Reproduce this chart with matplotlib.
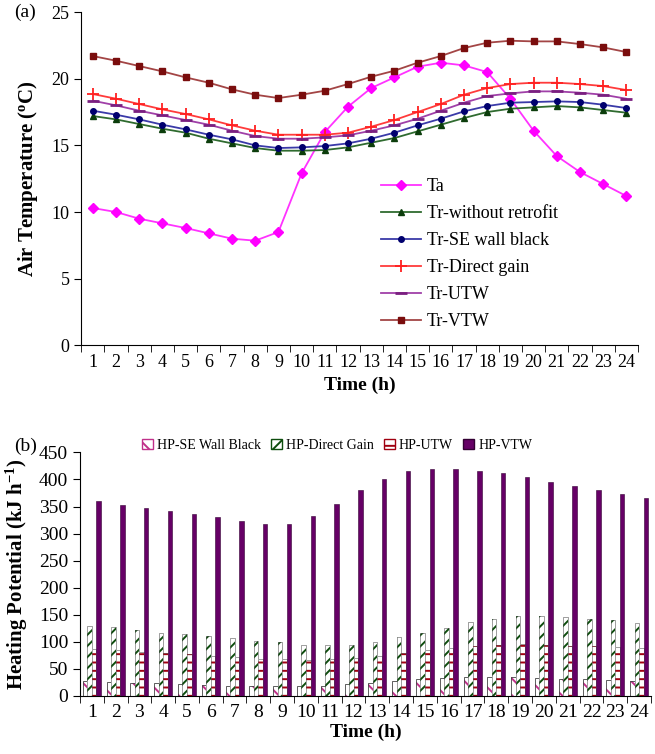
"""Air temperature and heating potential over a day (two stacked panels)."""

import matplotlib

matplotlib.use("Agg")
import matplotlib.pyplot as plt
import numpy as np
from matplotlib.patches import Patch

plt.rcParams["font.family"] = ["Liberation Serif", "DejaVu Serif"]
plt.rcParams["hatch.linewidth"] = 1.4

hours = list(range(1, 25))

# panel (a): air temperatures, degC
ta = [10.3, 10.0, 9.5, 9.15, 8.8, 8.4, 8.0, 7.85, 8.5, 12.9, 16.0, 17.9,
      19.3, 20.1, 20.9, 21.2, 21.0, 20.5, 18.5, 16.1, 14.2, 13.0, 12.1, 11.2]
tr_without = [17.2, 16.95, 16.6, 16.25, 15.95, 15.5, 15.15, 14.8, 14.6, 14.6, 14.65, 14.85,
              15.2, 15.55, 16.05, 16.55, 17.05, 17.5, 17.75, 17.85, 17.95, 17.85, 17.65, 17.45]
tr_se_black = [17.6, 17.3, 16.95, 16.55, 16.2, 15.8, 15.45, 15.0, 14.8, 14.85, 14.95, 15.15,
               15.5, 15.95, 16.5, 17.0, 17.55, 17.95, 18.2, 18.25, 18.3, 18.25, 18.05, 17.8]
tr_direct = [18.85, 18.5, 18.1, 17.7, 17.35, 16.95, 16.5, 16.1, 15.8, 15.8, 15.8, 15.95,
             16.4, 16.9, 17.5, 18.1, 18.8, 19.3, 19.6, 19.7, 19.7, 19.6, 19.45, 19.15]
tr_utw = [18.35, 18.0, 17.6, 17.25, 16.9, 16.55, 16.1, 15.7, 15.5, 15.5, 15.6, 15.75,
          16.1, 16.5, 17.0, 17.6, 18.2, 18.7, 18.9, 19.05, 19.05, 18.95, 18.8, 18.5]
tr_vtw = [21.7, 21.35, 20.95, 20.55, 20.1, 19.7, 19.2, 18.8, 18.55, 18.8, 19.1, 19.6,
          20.15, 20.6, 21.2, 21.7, 22.3, 22.7, 22.85, 22.8, 22.8, 22.6, 22.35, 22.0]

# panel (b): heating potential, kJ/h
hp_se_black = [27, 26, 24, 23, 22, 20, 18, 18, 18, 18, 19, 22,
               24, 28, 31, 34, 35, 35, 35, 33, 32, 31, 30, 28]
hp_direct = [130, 127, 122, 117, 114, 110, 107, 102, 99, 95, 94, 95,
             100, 108, 117, 126, 136, 142, 147, 147, 145, 143, 140, 135]
hp_utw = [87, 85, 82, 80, 77, 73, 72, 69, 68, 67, 68, 70,
          74, 80, 84, 89, 92, 94, 96, 95, 93, 92, 91, 88]
hp_vtw = [360, 353, 347, 341, 336, 330, 324, 317, 317, 332, 355, 381,
          401, 415, 420, 420, 416, 412, 405, 396, 388, 380, 373, 366]


def style_category_axis(ax, labelsize=13):
    ax.spines["top"].set_visible(False)
    ax.spines["right"].set_visible(False)
    ax.set_xlim(0.5, 24.5)
    ax.set_xticks(hours)
    ax.set_xticks(np.arange(0.5, 25, 1), minor=True)
    ax.tick_params(axis="x", which="major", length=0, labelsize=labelsize, pad=6)
    ax.tick_params(axis="x", which="minor", length=5, direction="out")
    ax.tick_params(axis="y", length=5, labelsize=labelsize)


fig = plt.figure(figsize=(6.55, 7.54), dpi=100)

# --- (a) air temperature
ax1 = fig.add_axes([0.124, 0.542, 0.850, 0.442])
ax1.plot(hours, ta, color="#ff33ff", marker="D", ms=5, mfc="#ff00ff", mec="#ff00ff",
         lw=1.3, label="Ta")
ax1.plot(hours, tr_without, color="#2f6b2f", marker="^", ms=4, mfc="#0b3d0b", mec="#0b3d0b",
         lw=1.3, label="Tr-without retrofit")
ax1.plot(hours, tr_se_black, color="#3a3aa8", marker="o", ms=4, mfc="#00006e", mec="#00006e",
         lw=1.3, label="Tr-SE wall black")
ax1.plot(hours, tr_direct, color="#ff3b3b", marker="+", ms=9, mew=1.3, mec="#ff2020",
         lw=1.3, label="Tr-Direct gain")
ax1.plot(hours, tr_utw, color="#a040a8", marker="_", ms=8, mew=2, mec="#7a1f80",
         lw=1.3, label="Tr-UTW")
ax1.plot(hours, tr_vtw, color="#a34545", marker="s", ms=4, mfc="#7a0d0d", mec="#7a0d0d",
         lw=1.3, label="Tr-VTW")
ax1.set_ylim(0, 25)
ax1.set_yticks(range(0, 26, 5))
style_category_axis(ax1)
ax1.set_xlabel("Time (h)", fontsize=14, fontweight="bold", labelpad=4)
ax1.set_ylabel("Air Temperature ($\\mathregular{^o}$C)", fontsize=15, fontweight="bold",
               labelpad=8)
ax1.legend(loc="upper left", bbox_to_anchor=(0.51, 0.55), frameon=False, fontsize=13,
           handlelength=2.2, labelspacing=0.55, handletextpad=0.3)
fig.text(0.021, 0.984, "(a)", fontsize=14, va="center")

# --- (b) heating potential
ax2 = fig.add_axes([0.122, 0.077, 0.872, 0.323])
x = np.array(hours, dtype=float)
w = 0.19
offs = [-1.5 * w, -0.5 * w, 0.5 * w, 1.5 * w]

# SE wall black: white bars with magenta hatch, dark outline
ax2.bar(x + offs[0], hp_se_black, w, color="white", edgecolor="#c0308a", hatch="\\\\",
        linewidth=0)
ax2.bar(x + offs[0], hp_se_black, w, color="none", edgecolor="#444444", linewidth=0.6)
# direct gain: green diagonal stripes
ax2.bar(x + offs[1], hp_direct, w, color="white", edgecolor="#0d4d0d", hatch="///",
        linewidth=0)
ax2.bar(x + offs[1], hp_direct, w, color="none", edgecolor="#555555", linewidth=0.4)
# UTW: red horizontal stripes
ax2.bar(x + offs[2], hp_utw, w, color="white", edgecolor="#a00010", hatch="--",
        linewidth=0)
ax2.bar(x + offs[2], hp_utw, w, color="none", edgecolor="#555555", linewidth=0.4)
# VTW: solid purple
ax2.bar(x + offs[3], hp_vtw, w, color="#660066", edgecolor="#330033", linewidth=0.4)

ax2.set_ylim(0, 450)
ax2.set_yticks(range(0, 451, 50))
style_category_axis(ax2, labelsize=14)
ax2.set_xlabel("Time (h)", fontsize=14, fontweight="bold", labelpad=2)
ax2.set_ylabel("Heating Potential (kJ h$\\mathregular{^{-1}}$)", fontsize=15,
               fontweight="bold", labelpad=6)

handles = [
    Patch(facecolor="white", edgecolor="#c0308a", hatch="\\\\", label="HP-SE Wall Black"),
    Patch(facecolor="white", edgecolor="#0d4d0d", hatch="///", label="HP-Direct Gain"),
    Patch(facecolor="white", edgecolor="#a00010", hatch="--", label="HP-UTW"),
    Patch(facecolor="#660066", edgecolor="#330033", label="HP-VTW"),
]
ax2.legend(handles=handles, loc="center", bbox_to_anchor=(0.45, 1.03), ncol=4,
           frameon=False, fontsize=10, handlelength=0.8, handleheight=0.8,
           handletextpad=0.3, columnspacing=0.7, borderpad=0)
fig.text(0.021, 0.408, "(b)", fontsize=14, va="center")

fig.savefig("out.png", dpi=100)
